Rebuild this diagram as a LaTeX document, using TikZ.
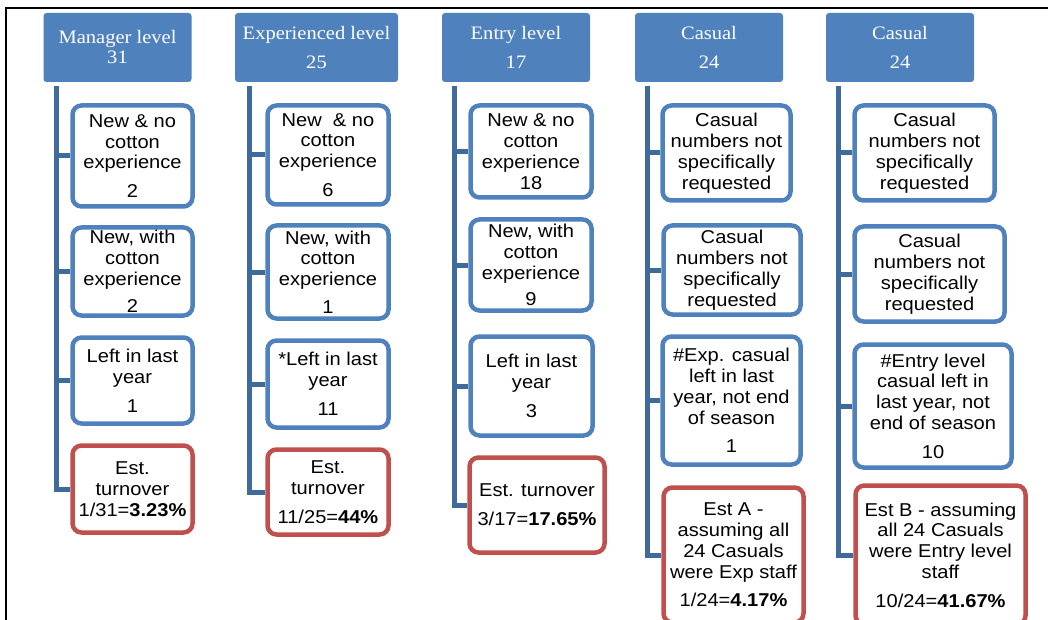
\documentclass[tikz,border=0pt]{standalone}
\usepackage{fontspec}
\setmainfont{Liberation Sans}[FakeStretch=1.08]
\newfontfamily\headfont{Liberation Serif}[FakeStretch=1.08]
\usetikzlibrary{positioning}
\definecolor{hdblue}{HTML}{4F81BD}
\definecolor{trunkblue}{HTML}{3F6A9C}
\definecolor{estred}{HTML}{C0504D}

\begin{document}
\begin{tikzpicture}[x=1pt, y=-1pt,
   head/.style={rectangle, rounded corners=3, fill=hdblue, text=white, minimum width=148, minimum height=69, align=center, font=\headfont\fontsize{19}{20}\selectfont},
   item/.style={rectangle, rounded corners=9, draw=hdblue, line width=4.5, fill=white, align=center, inner sep=0, font=\fontsize{18.6}{20.8}\selectfont},
   est/.style={item, draw=estred},
   trunk/.style={draw=trunkblue, line width=5}]
   \useasboundingbox (0,0) rectangle (1048,620);
   \draw[line width=2.5] (6,620) -- (6,8) -- (1048,8);

   % headers
   \node (h1) at (117.5,47.5) [head] {Manager level\\31};
   \node (h2) at (316.5,47.5) [head, minimum width=163] {Experienced level\\[9pt]25};
   \node (h3) at (516,47.5) [head] {Entry level\\[9pt]17};
   \node (h4) at (709,47.5) [head] {Casual\\[9pt]24};
   \node (h5) at (900,47.5) [head] {Casual\\[9pt]24};

   % manager level
   \node (m1) at (132.5,156) [item, minimum width=120, minimum height=101] {New \& no\\cotton\\experience\\[8pt]2};
   \node (m2) at (132.5,271.5) [item, minimum width=120, minimum height=88] {New, with\\cotton\\experience\\[7pt]2};
   \node (m3) at (132.5,380.5) [item, minimum width=120, minimum height=86] {Left in last\\year\\[8pt]1};
   \node (m4) at (132.5,489) [est, minimum width=120, minimum height=87] {Est.\\turnover\\1/31=\textbf{3.23\%}};

   % experienced level
   \node (x1) at (328,155) [item, minimum width=121, minimum height=99] {New~~\& no\\cotton\\experience\\[8pt]6};
   \node (x2) at (328,272) [item, minimum width=121, minimum height=93] {New, with\\cotton\\experience\\[7pt]1};
   \node (x3) at (328,384) [item, minimum width=121, minimum height=87] {*Left in last\\year\\[8pt]11};
   \node (x4) at (328,492) [est, minimum width=121, minimum height=85] {Est.\\turnover\\[8pt]11/25=\textbf{44\%}};

   % entry level
   \node (e1) at (531,151.5) [item, minimum width=121, minimum height=92] {New \& no\\cotton\\experience\\18};
   \node (e2) at (531,265) [item, minimum width=121, minimum height=91] {New, with\\cotton\\experience\\[6pt]9};
   \node (e3) at (531.5,386) [item, minimum width=122, minimum height=99] {Left in last\\year\\[8pt]3};
   \node (e4) at (537,505) [est, minimum width=135, minimum height=95] {Est. turnover\\[8pt]3/17=\textbf{17.65\%}};

   % casual, est A
   \node (a1) at (726.5,153) [item, minimum width=128, minimum height=95] {Casual\\numbers not\\specifically\\requested};
   \node (a2) at (732,270) [item, minimum width=137, minimum height=89] {Casual\\numbers not\\specifically\\requested};
   \node (a3) at (731.5,400.5) [item, minimum width=138, minimum height=128] {\#Exp. casual\\left in last\\year, not end\\of season\\[8pt]1};
   \node (a4) at (733.5,555) [est, minimum width=140, minimum height=135] {Est A -\\assuming all\\24 Casuals\\were Exp staff\\[8pt]1/24=\textbf{4.17\%}};

   % casual, est B
   \node (b1) at (924.5,153) [item, minimum width=140, minimum height=95] {Casual\\numbers not\\specifically\\requested};
   \node (b2) at (929.5,274) [item, minimum width=150, minimum height=95] {Casual\\numbers not\\specifically\\requested};
   \node (b3) at (933,406) [item, minimum width=157, minimum height=123] {\#Entry level\\casual left in\\last year, not\\end of season\\[8pt]10};
   \node (b4) at (940.5,555) [est, minimum width=170, minimum height=139] {Est B - assuming\\all 24 Casuals\\were Entry level\\staff\\[8pt]10/24=\textbf{41.67\%}};

   % trunks
   \coordinate (t1) at (56,86);
   \coordinate (t2) at (249,86);
   \coordinate (t3) at (454,86);
   \coordinate (t4) at (647,86);
   \coordinate (t5) at (838,86);
   \draw[trunk] (t1) |- (m4.west);
   \draw[trunk] (t2) |- (x4.west);
   \draw[trunk] (t3) |- (e4.west);
   \draw[trunk] (t4) |- (a4.west);
   \draw[trunk] (t5) |- (b4.west);
   \foreach \n in {m1,m2,m3} \draw[trunk] (\n.west) -- (\n.west -| t1);
   \foreach \n in {x1,x2,x3} \draw[trunk] (\n.west) -- (\n.west -| t2);
   \foreach \n in {e1,e2,e3} \draw[trunk] (\n.west) -- (\n.west -| t3);
   \foreach \n in {a1,a2,a3} \draw[trunk] (\n.west) -- (\n.west -| t4);
   \foreach \n in {b1,b2,b3} \draw[trunk] (\n.west) -- (\n.west -| t5);
\end{tikzpicture}
\end{document}
